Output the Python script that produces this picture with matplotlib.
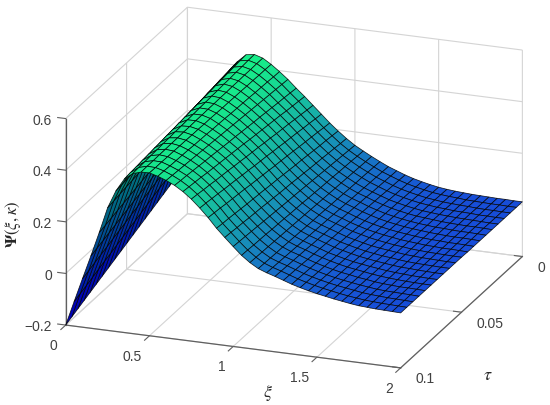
import numpy as np
import matplotlib
matplotlib.use("Agg")
import matplotlib.pyplot as plt

xi_grid = np.arange(41) * 0.05
tau_grid = np.arange(21) * 0.005

xi_ticks = [0, 0.5, 1, 1.5, 2]
xi_labels = ["0", "0.5", "1", "1.5", "2"]
tau_ticks = [0, 0.05, 0.1]
tau_labels = ["0", "0.05", "0.1"]
psi_ticks = [-0.2, 0, 0.2, 0.4, 0.6]
psi_labels = ["\u22120.2", "0", "0.2", "0.4", "0.6"]

# surface height, in thousandths
# one row per xi value, columns go from tau = 0 to tau = 0.1
psi_milli = [
    [0, -10, -20, -30, -40, -50, -60, -70, -80, -90, -100, -110, -120, -130, -140, -150, -160, -170, -180, -190, -200],
    [90, 80, 71, 61, 51, 41, 32, 22, 12, 2, -8, -17, -27, -37, -47, -56, -66, -76, -86, -95, -105],
    [175, 166, 156, 147, 138, 128, 119, 110, 100, 91, 82, 72, 63, 53, 44, 35, 25, 16, 7, -3, -12],
    [250, 242, 233, 225, 216, 208, 199, 191, 182, 174, 165, 157, 148, 140, 131, 123, 114, 106, 97, 89, 80],
    [315, 308, 301, 294, 287, 280, 273, 266, 259, 252, 245, 238, 231, 224, 217, 210, 203, 196, 189, 182, 175],
    [372, 367, 362, 357, 353, 348, 343, 338, 333, 328, 324, 319, 314, 309, 304, 299, 294, 290, 285, 280, 275],
    [415, 412, 408, 405, 401, 398, 394, 391, 387, 384, 380, 377, 373, 370, 366, 363, 359, 356, 352, 349, 345],
    [445, 443, 440, 438, 435, 433, 430, 428, 425, 423, 420, 418, 415, 413, 410, 408, 405, 403, 400, 398, 395],
    [450, 449, 447, 446, 444, 443, 441, 440, 438, 437, 435, 434, 432, 431, 429, 428, 426, 425, 423, 422, 420],
    [440, 440, 439, 439, 438, 438, 437, 437, 436, 436, 435, 435, 434, 434, 433, 433, 432, 432, 431, 431, 430],
    [420, 421, 421, 422, 422, 423, 423, 424, 424, 425, 426, 426, 427, 427, 428, 428, 429, 429, 430, 430, 431],
    [396, 397, 399, 400, 401, 403, 404, 405, 406, 408, 409, 410, 412, 413, 414, 416, 417, 418, 419, 421, 422],
    [370, 372, 374, 376, 378, 380, 382, 384, 386, 388, 390, 392, 394, 396, 398, 400, 402, 404, 406, 408, 410],
    [340, 343, 346, 348, 351, 354, 357, 359, 362, 365, 368, 370, 373, 376, 379, 381, 384, 387, 390, 392, 395],
    [312, 315, 318, 321, 325, 328, 331, 334, 337, 340, 344, 347, 350, 353, 356, 359, 362, 366, 369, 372, 375],
    [282, 285, 289, 292, 296, 299, 302, 306, 309, 313, 316, 319, 323, 326, 330, 333, 336, 340, 343, 347, 350],
    [252, 255, 259, 262, 266, 269, 272, 276, 279, 283, 286, 289, 293, 296, 300, 303, 306, 310, 313, 317, 320],
    [222, 225, 229, 232, 235, 238, 242, 245, 248, 251, 255, 258, 261, 264, 268, 271, 274, 277, 281, 284, 287],
    [195, 198, 201, 203, 206, 209, 212, 214, 217, 220, 223, 225, 228, 231, 234, 236, 239, 242, 245, 247, 250],
    [170, 172, 175, 177, 180, 182, 184, 187, 189, 192, 194, 196, 199, 201, 204, 206, 208, 211, 213, 216, 218],
    [148, 150, 152, 154, 156, 158, 160, 162, 164, 166, 168, 169, 171, 173, 175, 177, 179, 181, 183, 185, 187],
    [130, 131, 133, 134, 135, 137, 138, 139, 141, 142, 144, 145, 146, 148, 149, 150, 152, 153, 154, 156, 157],
    [113, 114, 115, 116, 117, 118, 119, 120, 121, 122, 123, 124, 125, 126, 127, 128, 129, 130, 131, 132, 133],
    [97, 98, 99, 100, 100, 101, 102, 103, 104, 105, 106, 106, 107, 108, 109, 110, 111, 111, 112, 113, 114],
    [82, 83, 84, 85, 86, 87, 88, 89, 90, 91, 92, 93, 94, 95, 96, 97, 98, 99, 100, 101, 102],
    [70, 71, 72, 73, 74, 76, 77, 78, 79, 80, 81, 82, 83, 84, 85, 87, 88, 89, 90, 91, 92],
    [58, 59, 60, 61, 63, 64, 65, 66, 67, 68, 70, 71, 72, 73, 74, 75, 76, 78, 79, 80, 81],
    [48, 49, 50, 51, 52, 54, 55, 56, 57, 58, 59, 60, 61, 62, 63, 65, 66, 67, 68, 69, 70],
    [40, 41, 42, 43, 44, 45, 46, 47, 48, 49, 51, 52, 53, 54, 55, 56, 57, 58, 59, 60, 61],
    [33, 34, 35, 36, 37, 38, 39, 40, 41, 42, 43, 44, 45, 46, 47, 48, 49, 50, 51, 52, 53],
    [27, 28, 29, 30, 31, 32, 33, 34, 35, 36, 37, 37, 38, 39, 40, 41, 42, 43, 44, 45, 46],
    [23, 24, 25, 26, 26, 27, 28, 29, 30, 31, 32, 32, 33, 34, 35, 36, 37, 37, 38, 39, 40],
    [20, 21, 21, 22, 23, 24, 24, 25, 26, 26, 27, 28, 28, 29, 30, 31, 31, 32, 33, 33, 34],
    [18, 19, 19, 20, 20, 21, 21, 22, 22, 23, 24, 24, 25, 25, 26, 26, 27, 27, 28, 28, 29],
    [16, 16, 17, 17, 18, 18, 18, 19, 19, 20, 20, 20, 21, 21, 22, 22, 22, 23, 23, 24, 24],
    [15, 15, 16, 16, 16, 16, 17, 17, 17, 17, 18, 18, 18, 18, 19, 19, 19, 19, 20, 20, 20],
    [14, 14, 14, 15, 15, 15, 15, 15, 16, 16, 16, 16, 16, 17, 17, 17, 17, 17, 18, 18, 18],
    [13, 13, 13, 13, 14, 14, 14, 14, 14, 14, 15, 15, 15, 15, 15, 15, 15, 16, 16, 16, 16],
    [13, 13, 13, 13, 13, 14, 14, 14, 14, 14, 14, 14, 14, 14, 14, 14, 15, 15, 15, 15, 15],
    [12, 12, 12, 12, 12, 13, 13, 13, 13, 13, 13, 13, 13, 13, 13, 13, 14, 14, 14, 14, 14],
    [12, 12, 12, 12, 12, 12, 12, 12, 12, 12, 13, 13, 13, 13, 13, 13, 13, 13, 13, 13, 13],
]

plt.rcParams["font.family"] = ["Liberation Sans", "DejaVu Sans"]
plt.rcParams["mathtext.fontset"] = "stix"
plt.rcParams["grid.color"] = "#d4d4d4"
plt.rcParams["grid.linewidth"] = 0.8

W, H = 550, 405
side = 529
fig = plt.figure(figsize=(W / 100, H / 100), dpi=100)
ax = fig.add_axes([22.4 / W, -54.2 / H, side / W, side / H], projection="3d")
ax.set_proj_type("ortho")
ax.view_init(elev=20, azim=-69.5)
ax.set_box_aspect((358, 348, 220))

tau_mesh, xi_mesh = np.meshgrid(tau_grid, xi_grid)
psi = np.array(psi_milli) / 1000

# winter colours by height, the part seen from below looks darker
face_colors = plt.get_cmap("winter")((psi + 0.2) / 0.70)
face_colors[:7, :, :3] *= 0.72
face_colors[7:, :, 0] += 0.09
face_colors = np.clip(face_colors, 0, 1)

ax.plot_surface(xi_mesh, tau_mesh, psi, rstride=1, cstride=1, facecolors=face_colors,
                edgecolor=(0, 0, 0, 0.85), linewidth=0.55, shade=False, antialiased=True)

ax.set_xlim(0, 2, view_margin=0)
ax.set_ylim(0.1, 0, view_margin=0)
ax.set_zlim(-0.2, 0.6, view_margin=0)

ax.set_xticks(xi_ticks)
ax.set_xticklabels(xi_labels, fontsize=10, color="#404040", ha="right", va="center")
ax.set_yticks(tau_ticks)
ax.set_yticklabels(tau_labels, fontsize=10, color="#404040", ha="left", va="center")
ax.set_zticks(psi_ticks)
ax.set_zticklabels(psi_labels, fontsize=10, color="#404040", ha="right", va="center")
ax.tick_params(axis="x", pad=5, color="#606060")
ax.tick_params(axis="y", pad=1, color="#606060")
ax.tick_params(axis="z", pad=-2, color="#606060")

# the tau axis is reversed, so the xi ticks need a negative factor to point out
ax.zaxis._axinfo["juggled"] = (1, 2, 0)
for axis, out in ((ax.xaxis, -0.5), (ax.yaxis, 0.3), (ax.zaxis, 0.3)):
    axis.set_pane_color((1, 1, 1, 0))
    axis.pane.set_edgecolor("#d4d4d4")
    axis.line.set_color("#606060")
    axis.line.set_linewidth(0.9)
    axis._axinfo["tick"]["inward_factor"] = 0
    axis._axinfo["tick"]["outward_factor"] = out

fig.text(13 / W, 1 - 224 / H, r"$\mathbf{\Psi}(\xi,\kappa)$", rotation=90,
         ha="center", va="center", fontsize=12, color="#262626")
fig.text(268 / W, 1 - 393 / H, r"$\xi$", ha="center", va="center", fontsize=13, color="#262626")
fig.text(488 / W, 1 - 375 / H, r"$\tau$", ha="center", va="center", fontsize=13, color="#262626")

fig.savefig("out.png", dpi=100)
